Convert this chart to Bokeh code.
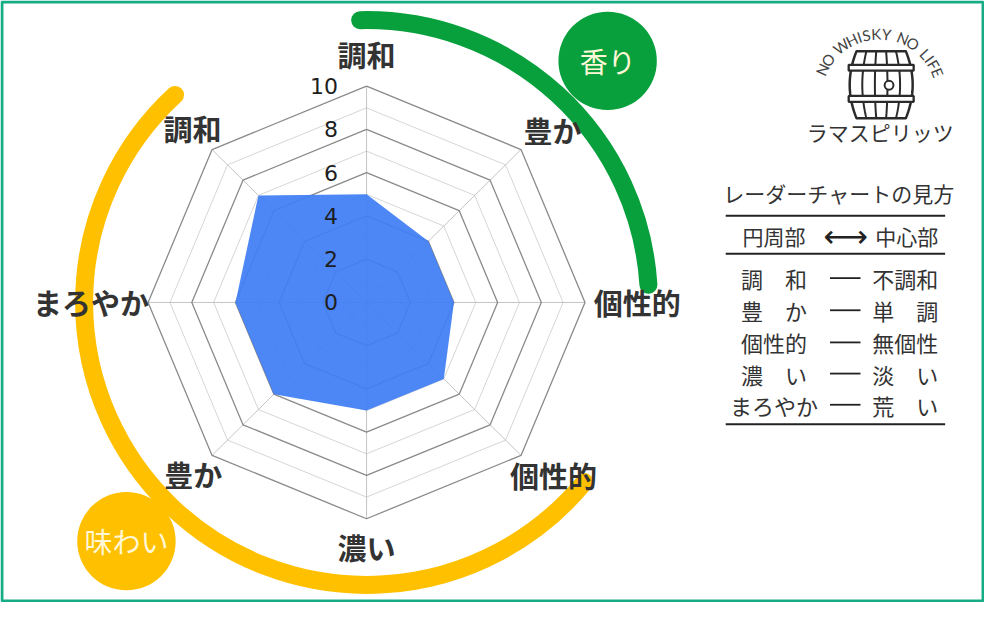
import math
from bokeh.plotting import figure
from bokeh.models import Range1d
from bokeh.core.properties import value
from bokeh.embed import file_html
from bokeh.resources import INLINE

# ---------------- data ----------------
categories = ["調和", "豊か", "個性的", "個性的", "濃い", "豊か", "まろやか", "調和"]
groups = ["香り", "香り", "香り", "味わい", "味わい", "味わい", "味わい", "味わい"]
scores = [5, 4, 4, 5, 5, 6, 6, 7]
r_max = 10
tick_values = [0, 2, 4, 6, 8, 10]
tick_labels = ["0", "2", "4", "6", "8", "10"]

legend_title = "レーダーチャートの見方"
legend_header = ["円周部", "⟷", "中心部"]
legend_left = ["調　和", "豊　か", "個性的", "濃　い", "まろやか"]
legend_right = ["不調和", "単　調", "無個性", "淡　い", "荒　い"]

logo_arc_text = "NO WHISKY NO LIFE"
logo_name = "ラマスピリッツ"

# ---------------- layout helpers (reference px -> data) ----------------
def Y(sy):
    return 618 - sy

JP = value("Noto Sans CJK JP")
CX, CY = 372, Y(310)
UNIT = 22.2
N = len(categories)
angles = [math.pi / 2 - i * 2 * math.pi / N for i in range(N)]

p = figure(width=984, height=602, x_range=Range1d(0, 1000), y_range=Range1d(0, 618),
           output_backend="svg", toolbar_location=None, min_border=0,
           x_axis_location=None, y_axis_location=None)
p.grid.visible = False
p.outline_line_color = None
p.background_fill_color = "white"
p.border_fill_color = "white"

# ---------------- radar grid ----------------
minor_xs, minor_ys, major_xs, major_ys = [], [], [], []
for k in range(1, r_max + 1):
    xs = [CX + k * UNIT * math.cos(a) for a in angles] + [CX + k * UNIT * math.cos(angles[0])]
    ys = [CY + k * UNIT * math.sin(a) for a in angles] + [CY + k * UNIT * math.sin(angles[0])]
    if k % 2 == 0:
        major_xs.append(xs); major_ys.append(ys)
    else:
        minor_xs.append(xs); minor_ys.append(ys)
p.multi_line(minor_xs, minor_ys, line_color="#d6d6d6", line_width=1)
spoke_xs = [[CX, CX + r_max * UNIT * math.cos(a)] for a in angles]
spoke_ys = [[CY, CY + r_max * UNIT * math.sin(a)] for a in angles]
p.multi_line(spoke_xs, spoke_ys, line_color="#c4c4c4", line_width=1)
p.multi_line(major_xs, major_ys, line_color="#8a8a8a", line_width=1.3)

# data polygon
px = [CX + s * UNIT * math.cos(a) for s, a in zip(scores, angles)]
py = [CY + s * UNIT * math.sin(a) for s, a in zip(scores, angles)]
p.patch(px, py, fill_color="#3F7EF5", fill_alpha=0.93, line_color=None)

# tick labels
p.text(x=[343] * len(tick_values), y=[CY + v * UNIT for v in tick_values], text=tick_labels,
       text_align="right", text_baseline="middle", text_font=value("DejaVu Sans"),
       text_font_size="22px", text_color="#1e1e1e")

# ---------------- group arcs ----------------
R_ARC = 287
p.arc(x=CX, y=CY, radius=R_ARC, start_angle=math.radians(3.6), end_angle=math.radians(91.3),
      direction="anticlock", line_color="#08A03D", line_width=18, line_cap="round")
p.arc(x=CX, y=CY, radius=R_ARC, start_angle=math.radians(132.7), end_angle=math.radians(320.5),
      direction="anticlock", line_color="#FFC000", line_width=18, line_cap="round")

p.circle(x=[617], y=[Y(62)], radius=50, fill_color="#08A03D", line_color=None)
p.circle(x=[128], y=[Y(555)], radius=50, fill_color="#FFC000", line_color=None)
p.text(x=[617, 128], y=[Y(62), Y(555)], text=["香り", "味わい"], text_align="center",
       text_baseline="middle", text_font=JP, text_font_size="28px", text_color="#FFF7D6")

# ---------------- category labels ----------------
label_pos = [(372, 55), (561, 133), (647, 310), (562, 487),
             (372, 561), (196, 486), (92, 310), (195, 131)]
p.text(x=[q[0] for q in label_pos], y=[Y(q[1]) for q in label_pos], text=categories,
       text_align="center", text_baseline="middle", text_font=JP, text_font_size="29px",
       text_font_style="bold", text_color="#333333")

# ---------------- legend table ----------------
p.text(x=[852], y=[Y(198)], text=[legend_title], text_align="center", text_baseline="middle",
       text_font=JP, text_font_size="21px", text_color="#333333")
p.segment(x0=[737] * 3, y0=[Y(221), Y(260), Y(435)], x1=[960] * 3, y1=[Y(221), Y(260), Y(435)],
          line_color="#222222", line_width=2)
p.text(x=[786, 921], y=[Y(242)] * 2, text=[legend_header[0], legend_header[2]],
       text_align="center", text_baseline="middle", text_font=JP, text_font_size="21px",
       text_color="#333333")
p.text(x=[859], y=[Y(242)], text=[legend_header[1]], text_align="center", text_baseline="middle",
       text_font=value("DejaVu Sans"), text_font_size="31px", text_color="#222222")
row_y = [Y(v) for v in (285, 318, 351, 383, 415)]
p.text(x=[786] * 5, y=row_y, text=legend_left, text_align="center", text_baseline="middle",
       text_font=JP, text_font_size="22px", text_color="#333333")
p.text(x=[886] * 5, y=row_y, text=legend_right, text_align="left", text_baseline="middle",
       text_font=JP, text_font_size="22px", text_color="#333333")
p.segment(x0=[843] * 5, y0=row_y, x1=[874] * 5, y1=row_y, line_color="#222222", line_width=1.8)

# ---------------- logo ----------------
LCX, LCY, LR = 893, Y(98), 64
widths = {"N": 1.0, "O": 1.05, " ": 0.55, "W": 1.3, "H": 1.0, "I": 0.45, "S": 0.85,
          "K": 0.95, "Y": 0.95, "L": 0.8, "F": 0.8, "E": 0.8}
w = [widths[c] for c in logo_arc_text]
tot = sum(w)
cum, acc = [], 0.0
for wi in w:
    cum.append(acc + wi / 2); acc += wi
a0, a1 = math.radians(160), math.radians(18)
la = [a0 + (a1 - a0) * c / tot for c in cum]
p.text(x=[LCX + LR * math.cos(a) for a in la], y=[LCY + LR * math.sin(a) for a in la],
       text=list(logo_arc_text), angle=[a - math.pi / 2 for a in la], text_align="center",
       text_baseline="middle", text_font=value("Lato"), text_font_size="15px",
       text_color="#444444")

BX = 895
def hw(sy):
    return 25 + 7 * (1 - ((sy - 86.5) / 34.5) ** 2)
sys_ = [52 + i * 69 / 30 for i in range(31)]
outline_x = [BX - hw(s) for s in sys_] + [BX + hw(s) for s in reversed(sys_)]
outline_y = [Y(s) for s in sys_] + [Y(s) for s in reversed(sys_)]
p.patch(outline_x, outline_y, fill_color="white", line_color="#2a2a2a", line_width=2.5,
        line_join="round")
stave_xs = [[BX + f * hw(s) for s in sys_] for f in (-0.6, -0.2, 0.2, 0.6)]
stave_ys = [[Y(s) for s in sys_] for _ in range(4)]
p.multi_line(stave_xs, stave_ys, line_color="#2a2a2a", line_width=2)
p.quad(left=[862, 862], right=[928, 928], top=[Y(66), Y(98)], bottom=[Y(72), Y(104)],
       fill_color="white", line_color="#2a2a2a", line_width=2.3)
p.circle(x=[903], y=[Y(87)], radius=4.5, fill_color="white", line_color="#2a2a2a", line_width=2)
p.text(x=[894], y=[Y(135)], text=[logo_name], text_align="center", text_baseline="middle",
       text_font=JP, text_font_size="21px", text_color="#333333")

# ---------------- frame border ----------------
p.rect(x=[500], y=[309], width=997, height=615, fill_color=None, line_color="#16AD86",
       line_width=3)

open("out.html", "w").write(file_html(p, INLINE))
